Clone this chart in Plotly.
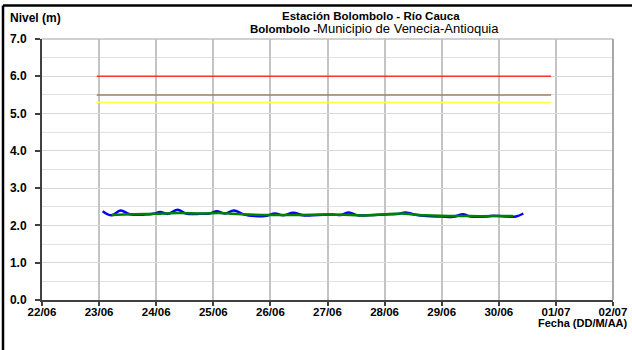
import plotly.graph_objects as go

# ---- data ----
blue_time = [
    "2010-06-23 01:30", "2010-06-23 05:15", "2010-06-23 09:00", "2010-06-23 13:00",
    "2010-06-23 19:10", "2010-06-23 23:30", "2010-06-24 01:40", "2010-06-24 05:00",
    "2010-06-24 09:00", "2010-06-24 12:30", "2010-06-24 18:30", "2010-06-24 22:30",
    "2010-06-25 01:30", "2010-06-25 04:50", "2010-06-25 08:40", "2010-06-25 13:00",
    "2010-06-25 17:30", "2010-06-25 21:40", "2010-06-26 02:00", "2010-06-26 05:15",
    "2010-06-26 09:40", "2010-06-26 13:40", "2010-06-26 20:00", "2010-06-27 02:20",
    "2010-06-27 05:45", "2010-06-27 09:00", "2010-06-27 12:45", "2010-06-27 19:00",
    "2010-06-28 02:20", "2010-06-28 06:00", "2010-06-28 08:40", "2010-06-28 12:00",
    "2010-06-28 17:45", "2010-06-29 00:00", "2010-06-29 04:50", "2010-06-29 09:00",
    "2010-06-29 12:00", "2010-06-29 19:10", "2010-06-29 21:40", "2010-06-30 02:20",
    "2010-06-30 07:10", "2010-06-30 10:20",
]
blue_level = [
    2.38, 2.27, 2.40, 2.30,
    2.29, 2.32, 2.36, 2.31,
    2.42, 2.32, 2.31, 2.32,
    2.38, 2.32, 2.40, 2.29,
    2.25, 2.25, 2.32, 2.27,
    2.34, 2.27, 2.28, 2.29,
    2.28, 2.35, 2.27, 2.28,
    2.30, 2.31, 2.35, 2.30,
    2.25, 2.24, 2.23, 2.30,
    2.24, 2.24, 2.26, 2.24,
    2.24, 2.32,
]

green_time = [
    "2010-06-23 05:15", "2010-06-23 14:00", "2010-06-24 00:00", "2010-06-24 09:30",
    "2010-06-24 19:00", "2010-06-25 02:30", "2010-06-25 12:00", "2010-06-26 00:00",
    "2010-06-26 12:00", "2010-06-27 00:00", "2010-06-27 09:30", "2010-06-27 17:00",
    "2010-06-28 00:00", "2010-06-28 07:00", "2010-06-28 14:30", "2010-06-29 00:00",
    "2010-06-29 12:00", "2010-06-30 00:00", "2010-06-30 06:00",
]
green_level = [
    2.28, 2.30, 2.31, 2.33,
    2.32, 2.33, 2.30, 2.28,
    2.28, 2.29, 2.28, 2.27,
    2.30, 2.32, 2.28, 2.26,
    2.25, 2.25, 2.25,
]

ref_time = ["2010-06-22 23:00", "2010-06-30 22:00"]
red_level = [6.0, 6.0]
brown_level = [5.5, 5.5]
yellow_level = [5.3, 5.3]

x_range = ["2010-06-22", "2010-07-02"]
day_ticks = ["2010-06-22", "2010-06-23", "2010-06-24", "2010-06-25", "2010-06-26",
             "2010-06-27", "2010-06-28", "2010-06-29", "2010-06-30", "2010-07-01",
             "2010-07-02"]
day_labels = ["22/06", "23/06", "24/06", "25/06", "26/06", "27/06", "28/06",
              "29/06", "30/06", "01/07", "02/07"]
y_ticks = [0, 1, 2, 3, 4, 5, 6, 7]
y_labels = ["0.0", "1.0", "2.0", "3.0", "4.0", "5.0", "6.0", "7.0"]

FONT = "Liberation Sans, Arial, sans-serif"

fig = go.Figure()
fig.add_trace(go.Scatter(x=ref_time, y=red_level, mode="lines",
                         line=dict(color="#ff3030", width=1.5), hoverinfo="skip"))
fig.add_trace(go.Scatter(x=ref_time, y=brown_level, mode="lines",
                         line=dict(color="#a08060", width=1.5), hoverinfo="skip"))
fig.add_trace(go.Scatter(x=ref_time, y=yellow_level, mode="lines",
                         line=dict(color="#ffff40", width=1.5), hoverinfo="skip"))
fig.add_trace(go.Scatter(x=blue_time, y=blue_level, mode="lines", line_shape="spline",
                         line=dict(color="#0000ff", width=2.5)))
fig.add_trace(go.Scatter(x=green_time, y=green_level, mode="lines", line_shape="spline",
                         line=dict(color="#008000", width=2.5)))

fig.update_layout(
    width=632, height=350,
    margin=dict(l=42, r=19, t=39, b=50, autoexpand=False),
    paper_bgcolor="white", plot_bgcolor="white",
    showlegend=False,
    font=dict(family=FONT, size=10, color="black"),
)

fig.update_xaxes(
    type="date", range=x_range, automargin=False,
    tickmode="array", tickvals=day_ticks,
    ticktext=["<b>%s</b>" % t for t in day_labels],
    tickfont=dict(family=FONT, size=11.5, color="black"),
    ticklabelstandoff=-4,
    showgrid=True, gridcolor="#c4c4c4", gridwidth=1.5,
    showline=True, linecolor="#404040", linewidth=2,
    ticks="outside", ticklen=4, tickcolor="#404040", tickwidth=1.5,
    zeroline=False,
)
fig.update_yaxes(
    range=[0, 7], automargin=False,
    tickmode="array", tickvals=y_ticks,
    ticktext=["<b>%s</b>" % t for t in y_labels],
    tickfont=dict(family=FONT, size=12, color="black"),
    ticklabelstandoff=6,
    showgrid=True, gridcolor="#d8d8d8", gridwidth=1,
    minor=dict(dtick=0.5, showgrid=True, gridcolor="#e2e2e2", gridwidth=1),
    showline=True, linecolor="#404040", linewidth=2,
    ticks="outside", ticklen=5, tickcolor="#404040", tickwidth=1.5,
    zeroline=False,
)

# plot-area top/right border
fig.add_shape(type="line", xref="paper", yref="paper", x0=0, x1=1, y0=1, y1=1,
              line=dict(color="#c0c0c0", width=1.5))
fig.add_shape(type="line", xref="paper", yref="paper", x0=1, x1=1, y0=0, y1=1,
              line=dict(color="#a8a8a8", width=2))
# outer black frame (top and left)
fig.add_shape(type="line", xref="paper", yref="paper", x0=-0.0683, x1=1.05,
              y0=1.1284, y1=1.1284, line=dict(color="black", width=2.5))
fig.add_shape(type="line", xref="paper", yref="paper", x0=-0.0683, x1=-0.0683,
              y0=-0.2, y1=1.1284, line=dict(color="black", width=2.5))

fig.add_annotation(xref="paper", yref="paper", x=-0.0595, y=(300 - 18) / 261,
                   xanchor="left", yanchor="middle", showarrow=False,
                   text="<b>Nivel (m)</b>", font=dict(family=FONT, size=12))
fig.add_annotation(xref="paper", yref="paper", x=(371 - 42) / 571, y=(300 - 16) / 261,
                   xanchor="center", yanchor="middle", showarrow=False,
                   text="<b>Estación Bolombolo - Río Cauca</b>", font=dict(family=FONT, size=11.5))
fig.add_annotation(xref="paper", yref="paper", x=(374 - 42) / 571, y=(300 - 29) / 261,
                   xanchor="center", yanchor="middle", showarrow=False,
                   text="<b>Bolombolo -</b><span style='font-size:13px'>Municipio de Venecia-Antioquia</span>",
                   font=dict(family=FONT, size=11.5))
fig.add_annotation(xref="paper", yref="paper", x=(630 - 42) / 571, y=(300 - 323) / 261,
                   xanchor="right", yanchor="middle", showarrow=False,
                   text="<b>Fecha (DD/M/AA)</b>", font=dict(family=FONT, size=11))

fig.write_html("out.html", config={"displayModeBar": False},
               post_script="document.body.style.margin='0';document.body.style.overflow='hidden';")
